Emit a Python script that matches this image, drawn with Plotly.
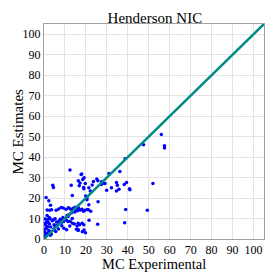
import plotly.graph_objects as go

title_text = "Henderson NIC"
x_label = "MC Experimental"
y_label = "MC Estimates"
tick_vals = [0, 10, 20, 30, 40, 50, 60, 70, 80, 90, 100]
line_x = [0, 105]
line_y = [0, 105]

pts = [
    (56, 51), (57.5, 45.5), (57.5, 44.5), (47.5, 46), (38.7, 39.2), (36.2, 33), (31, 32),
    (52, 27.1), (34.6, 27.6), (35, 26.3), (38.3, 26.6), (39.4, 27.6), (32.2, 25), (29.9, 23.8),
    (34.6, 23.5), (35.8, 24.3), (40.8, 24.6), (41, 24),
    (25.2, 29.3), (25.7, 28.4), (27.5, 27.9), (27.4, 26.6), (28.3, 27.4), (29.1, 27.1),
    (23.6, 28.1), (23, 26.4), (21.4, 25), (22.1, 23.5), (19.9, 21), (18, 31.7), (18.5, 29.1),
    (16.4, 28.4), (17.2, 27.4), (19.7, 27.1), (18.9, 25.1), (12.4, 33.7), (13, 26.3),
    (13.5, 21.2), (4.2, 26.3), (4.5, 25.1), (17.7, 31.5), (19.1, 29.9), (16.8, 26), (19, 24.5),
    (2.3, 18.7), (3.1, 16.5), (1, 20.3), (20.5, 19.2), (21.4, 16.7), (20.7, 14.4), (25.8, 18.2),
    (20.5, 20), (39, 14.4), (49.3, 14),
    (1.5, 14.2), (2.7, 14.0), (3.6, 14.3), (5.8, 14.0), (7.0, 14.6), (8.2, 15.4), (9.2, 15.1),
    (10.5, 14.5), (11.7, 15.3), (12.6, 14.6), (13.6, 14.5), (14.5, 14.0), (15.4, 14.3),
    (16.0, 13.8), (17.2, 14.2), (18.1, 14.5), (18.8, 13.5), (19.5, 14.0), (21.2, 14.3), (22.3, 13.6),
    (14, 15), (15, 15.5), (15.8, 14.8), (16.5, 15.2), (14.7, 13.2), (13.2, 12.8), (12, 12), (11.5, 11),
    (9, 9), (8, 8.5), (7, 8), (6, 6.5), (5, 5), (3, 3.5), (2, 2.5), (1, 1.5),
    (0.6, 9.8), (1.7, 9.4), (2.9, 9.9), (3.9, 8.9), (4.5, 9.4), (5.3, 9.9), (0.3, 7.5), (0.8, 6.8),
    (1.2, 5.5), (0.5, 4.8), (1.8, 6.0), (2.2, 4.2), (0.4, 3.2), (1.4, 2.8), (0.6, 1.2), (0.9, 2),
    (2.6, 7.3), (3.2, 5.8), (1.1, 8.2), (2.0, 8.0),
    (6, 8.3), (7.2, 8.8), (8.3, 8), (9.4, 8.5), (10.6, 9.4), (11.4, 8.5), (12.5, 8.7), (13.6, 7.7),
    (14.5, 7.3), (15.8, 6.4), (17, 6.9), (18.2, 7.7), (19, 7), (15.5, 4.8), (16.4, 4.5), (18.3, 3.5),
    (10.8, 4.5), (9.5, 5.3), (4.5, 4.5), (5.3, 5.8), (6.1, 6.4), (6.9, 4.9), (16.3, 7.7), (16.3, 4.1),
    (19.1, 4.4), (19.8, 3.1), (21.5, 9.2), (25.6, 7.2), (38.5, 7.9), (3.5, 2.5), (4.8, 7.0),
    (7.8, 9.6), (9, 10.5), (11, 11.5), (10, 10), (8.5, 6.5), (12.3, 6.3), (13.5, 10), (3, 1.8),
    (5.6, 3.7), (2.5, 10.5), (1.5, 11.5), (0.2, 0.5),
]
x_exp = [p[0] for p in pts]
y_est = [p[1] for p in pts]

font_family = "Liberation Serif"

fig = go.Figure()
fig.add_trace(go.Scatter(
    x=x_exp, y=y_est, mode="markers",
    marker=dict(color="#0000ff", size=3.5, line=dict(width=0)),
    showlegend=False,
))
fig.add_trace(go.Scatter(
    x=line_x, y=line_y, mode="lines",
    line=dict(color="#008b84", width=2.5),
    showlegend=False,
))

axis_common = dict(
    range=[0, 105], tickvals=tick_vals, showgrid=True, gridcolor="#e3e3e3", gridwidth=1,
    zeroline=False, showline=True, linecolor="#a0a0a0", linewidth=1, mirror=True,
    ticks="", automargin=False,
    tickfont=dict(family=font_family, size=12, color="#000"),
)

# page has an 8px body margin, so figure is 269x269 placed at (8, 8)
fig.update_layout(
    width=269, height=269,
    margin=dict(l=36, r=13, t=16, b=38),
    paper_bgcolor="white", plot_bgcolor="white",
    title=dict(text=title_text, x=0.546, xanchor="center", y=0.963, yanchor="middle",
               font=dict(family=font_family, size=15, color="#000")),
    xaxis=axis_common,
    yaxis=axis_common,
    font=dict(family=font_family),
    annotations=[
        dict(text=x_label, xref="paper", yref="paper", x=0.5, y=0, xanchor="center",
             yanchor="middle", yshift=-25, showarrow=False,
             font=dict(family=font_family, size=14.5, color="#000")),
        dict(text=y_label, xref="paper", yref="paper", x=0, y=0.5, xanchor="center",
             yanchor="middle", xshift=-27, textangle=-90, showarrow=False,
             font=dict(family=font_family, size=15, color="#000")),
    ],
)

fig.write_html("out.html")
